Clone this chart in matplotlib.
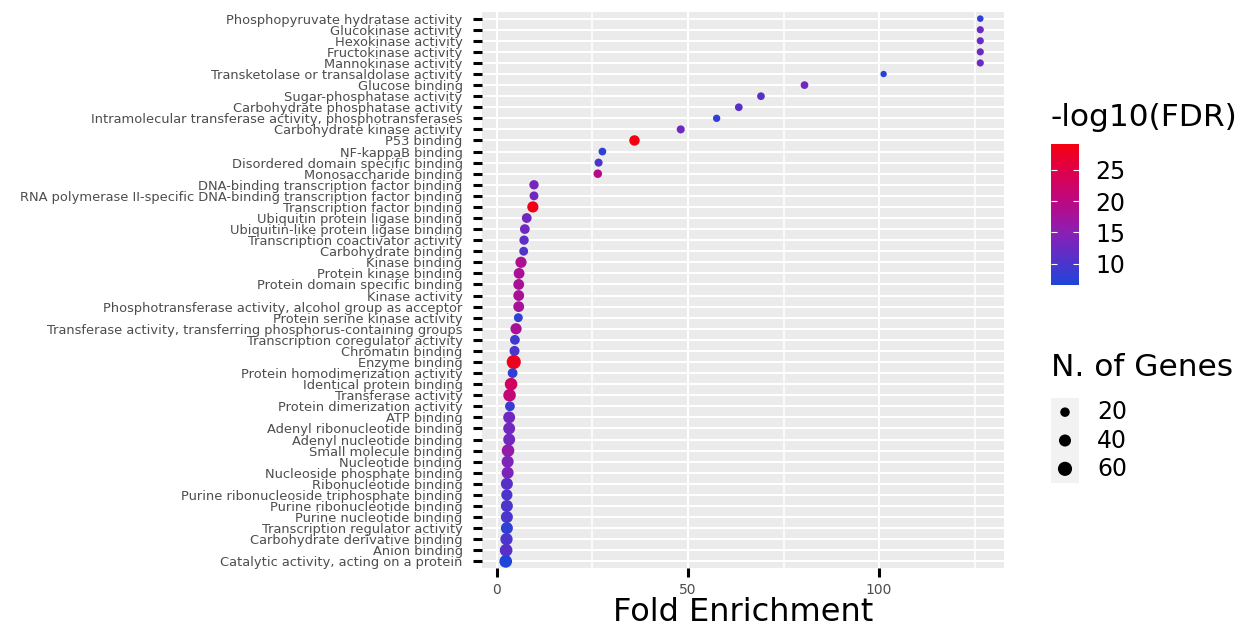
import numpy as np
import matplotlib.pyplot as plt
from matplotlib.colors import LinearSegmentedColormap, Normalize
from matplotlib.cm import ScalarMappable
from matplotlib.transforms import blended_transform_factory

# GO molecular function terms, top to bottom as in the figure
terms = [
    "Phosphopyruvate hydratase activity",
    "Glucokinase activity",
    "Hexokinase activity",
    "Fructokinase activity",
    "Mannokinase activity",
    "Transketolase or transaldolase activity",
    "Glucose binding",
    "Sugar-phosphatase activity",
    "Carbohydrate phosphatase activity",
    "Intramolecular transferase activity, phosphotransferases",
    "Carbohydrate kinase activity",
    "P53 binding",
    "NF-kappaB binding",
    "Disordered domain specific binding",
    "Monosaccharide binding",
    "DNA-binding transcription factor binding",
    "RNA polymerase II-specific DNA-binding transcription factor binding",
    "Transcription factor binding",
    "Ubiquitin protein ligase binding",
    "Ubiquitin-like protein ligase binding",
    "Transcription coactivator activity",
    "Carbohydrate binding",
    "Kinase binding",
    "Protein kinase binding",
    "Protein domain specific binding",
    "Kinase activity",
    "Phosphotransferase activity, alcohol group as acceptor",
    "Protein serine kinase activity",
    "Transferase activity, transferring phosphorus-containing groups",
    "Transcription coregulator activity",
    "Chromatin binding",
    "Enzyme binding",
    "Protein homodimerization activity",
    "Identical protein binding",
    "Transferase activity",
    "Protein dimerization activity",
    "ATP binding",
    "Adenyl ribonucleotide binding",
    "Adenyl nucleotide binding",
    "Small molecule binding",
    "Nucleotide binding",
    "Nucleoside phosphate binding",
    "Ribonucleotide binding",
    "Purine ribonucleoside triphosphate binding",
    "Purine ribonucleotide binding",
    "Purine nucleotide binding",
    "Transcription regulator activity",
    "Carbohydrate derivative binding",
    "Anion binding",
    "Catalytic activity, acting on a protein",
]

fold_enrichment = [
    126.5, 126.5, 126.5, 126.5, 126.5, 101.2, 80.5, 69.1, 63.3, 57.5,
    48.1, 36.0, 27.6, 26.6, 26.4, 9.7, 9.7, 9.4, 7.8, 7.3,
    7.1, 7.0, 6.3, 5.8, 5.7, 5.7, 5.7, 5.6, 5.0, 4.7,
    4.6, 4.4, 4.1, 3.7, 3.3, 3.4, 3.2, 3.2, 3.2, 2.9,
    2.8, 2.8, 2.6, 2.6, 2.6, 2.6, 2.6, 2.5, 2.4, 2.3,
]

neg_log10_fdr = [
    8.0, 12.5, 12.5, 12.5, 12.5, 7.0, 13.0, 11.0, 11.0, 8.0,
    13.0, 29.1, 8.0, 10.0, 19.5, 13.5, 13.0, 28.5, 13.0, 13.0,
    11.5, 10.5, 18.5, 18.0, 18.0, 18.0, 17.5, 8.0, 18.0, 9.0,
    10.0, 28.0, 8.0, 23.0, 21.0, 8.5, 13.0, 13.0, 13.0, 16.0,
    14.0, 14.0, 11.0, 10.0, 10.0, 10.0, 8.0, 10.0, 11.0, 6.6,
]

n_genes = [
    3, 6, 6, 6, 6, 2, 9, 9, 9, 7,
    11, 27, 9, 11, 14, 19, 16, 33, 22, 22,
    19, 16, 33, 30, 30, 30, 30, 16, 33, 22,
    24, 60, 22, 45, 45, 22, 39, 39, 39, 45,
    40, 40, 40, 33, 40, 40, 40, 42, 46, 46,
]

legend_genes = [20, 40, 60]
x_ticks = [0, 50, 100]
x_minor = [25, 75, 125]
fdr_ticks = [10, 15, 20, 25]

# blue -> purple -> red ramp, colours
cmap = LinearSegmentedColormap.from_list('fdr', [
    (0.0, '#1F45D8'),
    (0.15, '#4B35CD'),
    (0.37, '#8A1FB5'),
    (0.6, '#BD0880'),
    (0.82, '#DF0048'),
    (1.0, '#F50010'),
])
norm = Normalize(vmin=min(neg_log10_fdr), vmax=max(neg_log10_fdr))


def gene_size(n):
    # marker area in pt^2 (diameter^2 in px, 1 px = 0.72 pt)
    return (28 + 2.2 * np.asarray(n, float)) * 1.25 * 0.72 ** 2


plt.rcParams['font.family'] = 'DejaVu Sans'
fig = plt.figure(figsize=(12.5, 6.31), dpi=100)
ax = fig.add_axes([482 / 1250, 1 - 568 / 631, 522 / 1250, 556 / 631])

y = np.arange(len(terms))[::-1]
ax.set_facecolor('#EBEBEB')
ax.scatter(fold_enrichment, y, s=gene_size(n_genes), c=neg_log10_fdr,
           cmap=cmap, norm=norm, edgecolors='none', zorder=3)

lo, hi = min(fold_enrichment), max(fold_enrichment)
pad = 0.05 * (hi - lo)
ax.set_xlim(lo - pad, hi + pad)
ax.set_ylim(-0.6, len(terms) - 0.4)

ax.set_yticks(y)
ax.set_yticklabels(terms)
ax.set_xticks(x_ticks)
ax.set_xticks(x_minor, minor=True)
ax.grid(True, which='major', color='white', lw=1.5, zorder=1)
ax.grid(True, which='minor', axis='x', color='white', lw=1.1, zorder=1)
ax.set_axisbelow(True)
for sp in ax.spines.values():
    sp.set_visible(False)
ax.tick_params(axis='both', which='major', length=6.5, width=2.2, color='black',
               labelcolor='#4D4D4D', labelsize=9.4)
ax.tick_params(axis='y', pad=7.5)
ax.tick_params(axis='x', pad=4, labelsize=10)
ax.tick_params(which='minor', length=0)
ax.set_xlabel('Fold Enrichment', fontsize=23, labelpad=0)

# colour bar legend
fig.text(1051 / 1250, 1 - 118 / 631, '-log10(FDR)', fontsize=22.5, va='center', ha='left')
cax = fig.add_axes([1051 / 1250, 1 - 285 / 631, 28 / 1250, 141 / 631])
cb = fig.colorbar(ScalarMappable(norm=norm, cmap=cmap), cax=cax, ticks=fdr_ticks)
cb.outline.set_visible(False)
cax.yaxis.set_ticks_position('both')
cax.tick_params(direction='in', color='white', length=4, width=0.8,
                labelsize=17, pad=12)
cax.yaxis.set_tick_params(labelleft=False, labelright=True)

# size legend
fig.text(1051 / 1250, 1 - 367 / 631, 'N. of Genes', fontsize=22.5, va='center', ha='left')
sax = fig.add_axes([1051 / 1250, 1 - 483 / 631, 28 / 1250, 85 / 631])
sax.set_facecolor('#F2F2F2')
sax.scatter([0.5] * len(legend_genes), legend_genes, s=gene_size(legend_genes),
            color='black', edgecolors='none')
sax.set_xlim(0, 1)
sax.set_ylim(70, 10)
sax.set_xticks([])
sax.set_yticks([])
for sp in sax.spines.values():
    sp.set_visible(False)
tr = blended_transform_factory(fig.transFigure, sax.transData)
for g in legend_genes:
    fig.text(1097 / 1250, g, str(g), transform=tr, fontsize=17, va='center', ha='left')

fig.savefig('out.png', dpi=100)
